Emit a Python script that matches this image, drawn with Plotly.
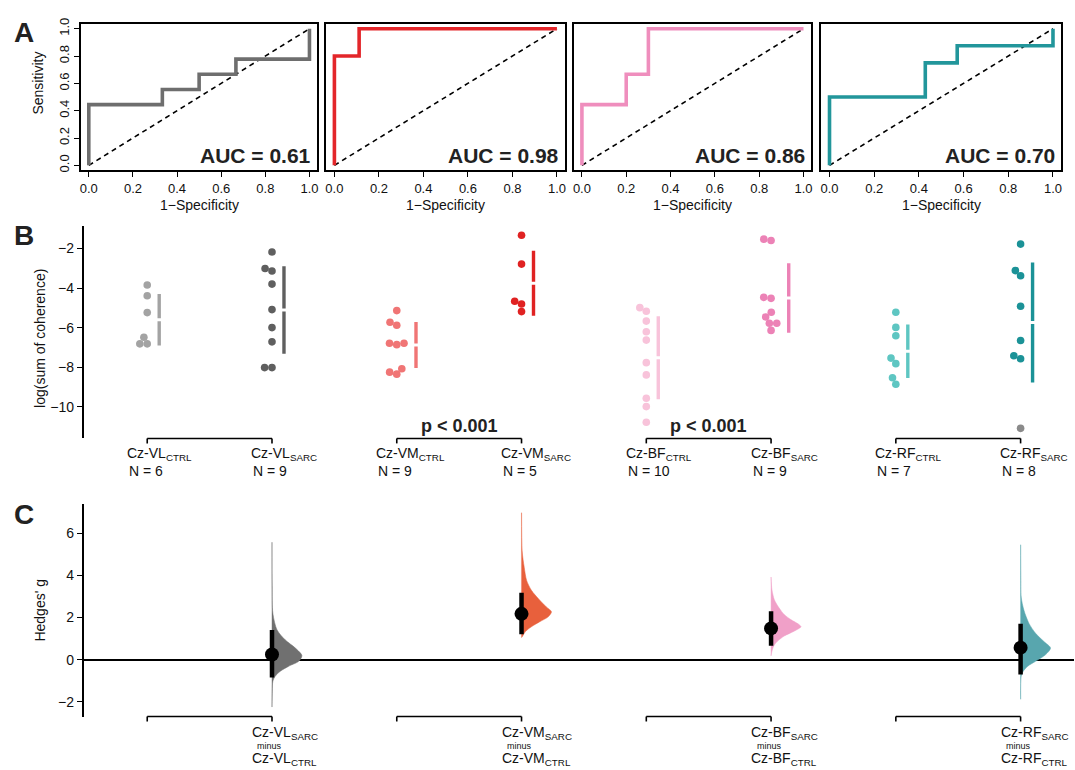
import numpy as np
import plotly.graph_objects as go

# ------------------------------------------------------------------ data
muscles = ["VL", "VM", "BF", "RF"]

vl_ctrl = [-3.85, -4.39, -5.24, -6.49, -6.82, -6.82]
vl_sarc = [-2.18, -3.01, -3.14, -3.80, -5.09, -6.00, -6.72, -8.02, -8.02]
vm_ctrl = [-5.14, -5.73, -5.88, -6.79, -6.86, -6.79, -8.25, -8.35, -8.08]
vm_sarc = [-1.33, -2.79, -4.67, -4.81, -5.19]
bf_ctrl = [-4.99, -5.17, -5.67, -6.21, -6.63, -7.77, -8.39, -9.57, -9.99, -10.78]
bf_sarc = [-1.53, -1.60, -4.47, -4.52, -5.22, -5.46, -5.78, -5.78, -6.14]
rf_ctrl = [-5.22, -5.99, -6.41, -7.54, -7.82, -8.53, -8.86]
rf_sarc = [-1.78, -3.12, -3.38, -4.92, -6.65, -7.42, -7.57, -11.09]

ctrl_data = [vl_ctrl, vm_ctrl, bf_ctrl, rf_ctrl]
sarc_data = [vl_sarc, vm_sarc, bf_sarc, rf_sarc]

# bootstrap 95% CI of Hedges' g
g_ci_low = [-0.85, 1.20, 0.66, -0.70]
g_ci_high = [1.40, 3.17, 2.30, 1.70]

# bootstrap distribution outlines (g level, relative density)
vl_boot_g = [-2.25, -1.5, -1.02, -0.78, -0.55, -0.31, -0.08, 0.19, 0.55, 0.94, 1.41, 2.19, 3.5, 5.57]
vl_boot_d = [0, 0.01, 0.03, 0.11, 0.28, 0.56, 0.89, 1.0, 0.78, 0.44, 0.17, 0.03, 0.005, 0]
vm_boot_g = [1.05, 1.1, 1.33, 1.56, 1.8, 2.03, 2.27, 2.5, 2.82, 3.29, 3.76, 4.38, 5.16, 6.97]
vm_boot_d = [0, 0.03, 0.13, 0.33, 0.61, 0.89, 1.0, 0.83, 0.61, 0.33, 0.17, 0.09, 0.02, 0]
bf_boot_g = [0.18, 0.34, 0.65, 0.88, 1.12, 1.35, 1.56, 1.67, 1.9, 2.14, 2.45, 2.84, 3.31, 3.92]
bf_boot_d = [0, 0.02, 0.09, 0.22, 0.44, 0.77, 1.0, 0.93, 0.66, 0.44, 0.27, 0.11, 0.03, 0]
rf_boot_g = [-1.88, -0.78, -0.55, -0.31, -0.08, 0.23, 0.55, 0.86, 1.25, 1.72, 2.35, 2.97, 4.0, 5.45]
rf_boot_d = [0, 0.02, 0.09, 0.24, 0.5, 0.83, 1.0, 0.78, 0.5, 0.28, 0.11, 0.02, 0.005, 0]
boot_g = [vl_boot_g, vm_boot_g, bf_boot_g, rf_boot_g]
boot_d = [vl_boot_d, vm_boot_d, bf_boot_d, rf_boot_d]

roc_ticks = [0.0, 0.2, 0.4, 0.6, 0.8, 1.0]
b_ticks = [-10, -8, -6, -4, -2]
c_ticks = [-2, 0, 2, 4, 6]

# ------------------------------------------------------------------ style
W, H = 1075, 770
FONT = "Liberation Sans, Arial, sans-serif"
roc_colors = ["#6e6e6e", "#e3262a", "#ef8ebd", "#22969b"]
ctrl_colors = ["#a3a3a3", "#f07575", "#f8c3da", "#5ec6c2"]
sarc_colors = ["#5f5f5f", "#e02222", "#ec82b6", "#1b9297"]
boot_colors = ["#707070", "#e8603c", "#f0a0c8", "#58a6ae"]
grey_point = {3: [7]}  # RF_SARC last point drawn in grey
GREY_PT = "#8a8a8a"

a_boxes = [(80, 317), (326, 565), (574, 812), (822, 1062)]
A_TOP, A_BOT = 18, 166
B_TOP, B_BOT = 222, 437
C_TOP, C_BOT = 503, 718
X0_PX, STEP_PX = 146.5, 125.0
X_LEFT_PX = 83
B_YPX = 20.0  # px per unit in panel B


def px(x):
    return x / W


def py(y):
    return 1 - y / H


def roc_curve(ctrl, sarc):
    vals = sorted(set(ctrl) | set(sarc), reverse=True)
    fpr, tpr = [0.0], [0.0]
    tp = fp = 0
    for v in vals:
        tp += sum(1 for s in sarc if s == v)
        fp += sum(1 for c in ctrl if c == v)
        fpr.append(fp / len(ctrl))
        tpr.append(tp / len(sarc))
    return fpr, tpr


def auc(fpr, tpr):
    return float(sum((fpr[i + 1] - fpr[i]) * (tpr[i + 1] + tpr[i]) / 2 for i in range(len(fpr) - 1)))


def hedges_g(c, s):
    c, s = np.asarray(c), np.asarray(s)
    n1, n2 = len(c), len(s)
    sp = np.sqrt(((n1 - 1) * c.var(ddof=1) + (n2 - 1) * s.var(ddof=1)) / (n1 + n2 - 2))
    return (s.mean() - c.mean()) / sp * (1 - 3 / (4 * (n1 + n2) - 9))


def swarm(vals, d=7.4, ypx=B_YPX):
    vals = np.asarray(vals, float)
    order = np.argsort(vals, kind="stable")
    placed = []
    offs = np.zeros(len(vals))
    for i in order:
        y = vals[i] * ypx
        cands = [0.0]
        for xo, yo in placed:
            dy = y - yo
            if abs(dy) < d:
                dx = np.sqrt(d * d - dy * dy)
                cands += [xo - dx, xo + dx]
        ok = [c for c in cands
              if all((c - xo) ** 2 + (y - yo) ** 2 >= d * d - 1e-6 for xo, yo in placed)]
        best = min(ok, key=lambda c: (round(abs(c), 6), c))
        offs[i] = best
        placed.append((best, y))
    return offs


fig = go.Figure()
annotations = []
shapes = []
layout = {}

# ------------------------------------------------------------------ panel A
for k, m in enumerate(muscles):
    ax = "" if k == 0 else str(k + 1)
    fpr, tpr = roc_curve(ctrl_data[k], sarc_data[k])
    fig.add_trace(go.Scatter(x=[0, 1], y=[0, 1], mode="lines", xaxis="x" + ax, yaxis="y" + ax,
                             line=dict(color="black", width=1.6, dash="5px,4px"), hoverinfo="skip"))
    fig.add_trace(go.Scatter(x=fpr, y=tpr, mode="lines", xaxis="x" + ax, yaxis="y" + ax,
                             line=dict(color=roc_colors[k], width=3.6), hoverinfo="skip"))
    l, r = a_boxes[k]
    layout["xaxis" + ax] = dict(domain=[px(l), px(r)], range=[-0.036, 1.036], anchor="y" + ax,
                                showline=True, mirror=True, linewidth=2, linecolor="black",
                                ticks="outside", ticklen=5, tickwidth=1.3, tickcolor="black",
                                tickvals=roc_ticks, ticktext=["%.1f" % t for t in roc_ticks],
                                tickfont=dict(size=13, color="#111"), showgrid=False, zeroline=False)
    layout["yaxis" + ax] = dict(domain=[py(A_BOT), py(A_TOP)], range=[-0.036, 1.036], anchor="x" + ax,
                                showline=True, mirror=True, linewidth=2, linecolor="black",
                                ticks="outside" if k == 0 else "", ticklen=5, tickwidth=1.3,
                                tickcolor="black", tickvals=roc_ticks,
                                ticktext=["%.1f" % t for t in roc_ticks], tickangle=-90,
                                showticklabels=(k == 0), tickfont=dict(size=13, color="#111"),
                                showgrid=False, zeroline=False)
    annotations.append(dict(x=px(r - 4), y=py(151), xref="paper", yref="paper", xanchor="right",
                            yanchor="middle", showarrow=False,
                            text="<b>AUC = %.2f</b>" % auc(fpr, tpr),
                            font=dict(size=21, color="#222")))
    annotations.append(dict(x=0.5, y=py(201), xref="x" + ax, yref="paper", xanchor="center",
                            yanchor="middle", showarrow=False, text="1\u2212Specificity",
                            font=dict(size=14, color="#111")))

annotations.append(dict(x=px(37.5), y=py(78), xref="paper", yref="paper", textangle=-90,
                        xanchor="center", yanchor="middle",
                        showarrow=False, text="Sensitivity", font=dict(size=14, color="#111")))

# ------------------------------------------------------------------ panel B
for k, m in enumerate(muscles):
    for j, (vals, col, lab) in enumerate([(ctrl_data[k], ctrl_colors[k], "CTRL"),
                                           (sarc_data[k], sarc_colors[k], "SARC")]):
        pos = 2 * k + j
        offs = swarm(vals)
        cols = [col] * len(vals)
        if j == 1 and k in grey_point:
            for gi in grey_point[k]:
                cols[gi] = GREY_PT
        fig.add_trace(go.Scatter(x=pos + offs / STEP_PX, y=vals, mode="markers", xaxis="x5", yaxis="y5",
                                 marker=dict(size=7.6, color=cols, line=dict(width=0)), hoverinfo="skip"))
        mu, sd = float(np.mean(vals)), float(np.std(vals, ddof=1))
        xl = pos + (max(0.0, offs.max()) + 12) / STEP_PX
        gap = 0.075
        fig.add_trace(go.Scatter(x=[xl, xl, None, xl, xl],
                                 y=[mu + sd, mu + gap, None, mu - gap, mu - sd],
                                 mode="lines", xaxis="x5", yaxis="y5",
                                 line=dict(color=col, width=3.4), hoverinfo="skip"))
        annotations.append(dict(x=pos, xshift=-22.5, y=py(453), xref="x5", yref="paper",
                                xanchor="left", yanchor="middle", showarrow=False,
                                text="Cz-%s<sub>%s</sub>" % (m, lab), font=dict(size=14, color="#111")))
        annotations.append(dict(x=pos, xshift=-20.5, y=py(470), xref="x5", yref="paper",
                                xanchor="left", yanchor="middle", showarrow=False,
                                text="N = %d" % len(vals), font=dict(size=14, color="#111")))
    # bracket
    for (xa, xb, ya, yb) in [(2 * k, 2 * k + 1, B_BOT, B_BOT), (2 * k, 2 * k, B_BOT, B_BOT + 5),
                             (2 * k + 1, 2 * k + 1, B_BOT, B_BOT + 5)]:
        shapes.append(dict(type="line", xref="x5", yref="paper", x0=xa, x1=xb, y0=py(ya), y1=py(yb),
                           line=dict(color="black", width=1.6)))
    # significance labels for the strongly separated pairs
    if auc(*roc_curve(ctrl_data[k], sarc_data[k])) > 0.8:
        annotations.append(dict(x=2 * k + 0.5, y=py(424), xref="x5", yref="paper", xanchor="center",
                                yanchor="middle", showarrow=False, text="<b>p < 0.001</b>",
                                font=dict(size=18, color="#222")))

xr = [-(X0_PX - X_LEFT_PX) / STEP_PX, (W - X0_PX) / STEP_PX]
b_top = -2 + (245 - B_TOP) / B_YPX
b_bot = -2 - (B_BOT - 245) / B_YPX
layout["xaxis5"] = dict(domain=[px(X_LEFT_PX), 1], range=xr, anchor="y5", visible=False)
layout["yaxis5"] = dict(domain=[py(B_BOT), py(B_TOP)], range=[b_bot, b_top], anchor="x5",
                        showline=True, linewidth=2, linecolor="black", ticks="outside", ticklen=5,
                        tickwidth=1.4, tickcolor="black", tickvals=b_ticks,
                        tickfont=dict(size=14, color="#111"), showgrid=False, zeroline=False)
annotations.append(dict(x=px(38.5), y=py(336), xref="paper", yref="paper", textangle=-90,
                        xanchor="center", yanchor="middle",
                        showarrow=False, text="log(sum of coherence)", font=dict(size=14, color="#111")))

# ------------------------------------------------------------------ panel C
C_YPX = 21.3
C_ZERO = 660.5
for k, m in enumerate(muscles):
    pos = 2 * k + 1
    g = hedges_g(ctrl_data[k], sarc_data[k])
    wmax = 30 / STEP_PX
    gx = [pos + wmax * d for d in boot_d[k]]
    fig.add_trace(go.Scatter(x=[pos, pos], y=[boot_g[k][0], boot_g[k][-1]], mode="lines",
                             xaxis="x6", yaxis="y6", opacity=0.35,
                             line=dict(color=boot_colors[k], width=1.2), hoverinfo="skip"))
    fig.add_trace(go.Scatter(x=gx, y=boot_g[k], mode="lines", fill="toself", xaxis="x6", yaxis="y6",
                             fillcolor=boot_colors[k], line=dict(color=boot_colors[k], width=0.5,
                                                                 shape="spline", smoothing=0.8),
                             hoverinfo="skip"))
    fig.add_trace(go.Scatter(x=[pos, pos], y=[g_ci_low[k], g_ci_high[k]], mode="lines",
                             xaxis="x6", yaxis="y6", line=dict(color="black", width=4.5),
                             hoverinfo="skip"))
    fig.add_trace(go.Scatter(x=[pos], y=[g], mode="markers", xaxis="x6", yaxis="y6",
                             marker=dict(size=14, color="black"), hoverinfo="skip"))
    for (xa, xb, ya, yb) in [(2 * k, 2 * k + 1, C_BOT, C_BOT), (2 * k, 2 * k, C_BOT, C_BOT + 5),
                             (2 * k + 1, 2 * k + 1, C_BOT, C_BOT + 5)]:
        shapes.append(dict(type="line", xref="x6", yref="paper", x0=xa, x1=xb, y0=py(ya), y1=py(yb),
                           line=dict(color="black", width=1.6)))
    annotations.append(dict(x=pos, xshift=-22, y=py(735), xref="x6", yref="paper", xanchor="left",
                            yanchor="middle", showarrow=False, text="Cz-%s<sub>SARC</sub>" % m,
                            font=dict(size=14, color="#111")))
    annotations.append(dict(x=pos, xshift=-2, y=py(748), xref="x6", yref="paper", xanchor="center",
                            yanchor="middle", showarrow=False, text="minus",
                            font=dict(size=9, color="#111")))
    annotations.append(dict(x=pos, xshift=-22, y=py(761), xref="x6", yref="paper", xanchor="left",
                            yanchor="middle", showarrow=False, text="Cz-%s<sub>CTRL</sub>" % m,
                            font=dict(size=14, color="#111")))

c_top = (C_ZERO - C_TOP) / C_YPX
c_bot = -(C_BOT - C_ZERO) / C_YPX
layout["xaxis6"] = dict(domain=[px(X_LEFT_PX), 1], range=xr, anchor="y6", visible=False)
layout["yaxis6"] = dict(domain=[py(C_BOT), py(C_TOP)], range=[c_bot, c_top], anchor="x6",
                        showline=True, linewidth=2, linecolor="black", ticks="outside", ticklen=5,
                        tickwidth=1.4, tickcolor="black", tickvals=c_ticks,
                        tickfont=dict(size=14, color="#111"), showgrid=False,
                        zeroline=True, zerolinecolor="black", zerolinewidth=1.5)
annotations.append(dict(x=px(39), y=py(610), xref="paper", yref="paper", textangle=-90,
                        xanchor="center", yanchor="middle",
                        showarrow=False, text="Hedges' g", font=dict(size=14, color="#111")))

# panel letters
for lab, yy in [("A", 27), ("B", 232), ("C", 514)]:
    annotations.append(dict(x=px(23), y=py(yy), xref="paper", yref="paper", xanchor="center",
                            yanchor="middle", showarrow=False, text="<b>%s</b>" % lab,
                            font=dict(size=28, color="#222")))

fig.update_layout(width=W, height=H, margin=dict(l=0, r=0, t=0, b=0), paper_bgcolor="white",
                  plot_bgcolor="rgba(0,0,0,0)", showlegend=False, font=dict(family=FONT, color="#111"),
                  annotations=annotations, shapes=shapes, **layout)
fig.write_html("out.html", config={"displayModeBar": False},
               post_script="document.body.style.margin='0';document.body.style.overflow='hidden';")
